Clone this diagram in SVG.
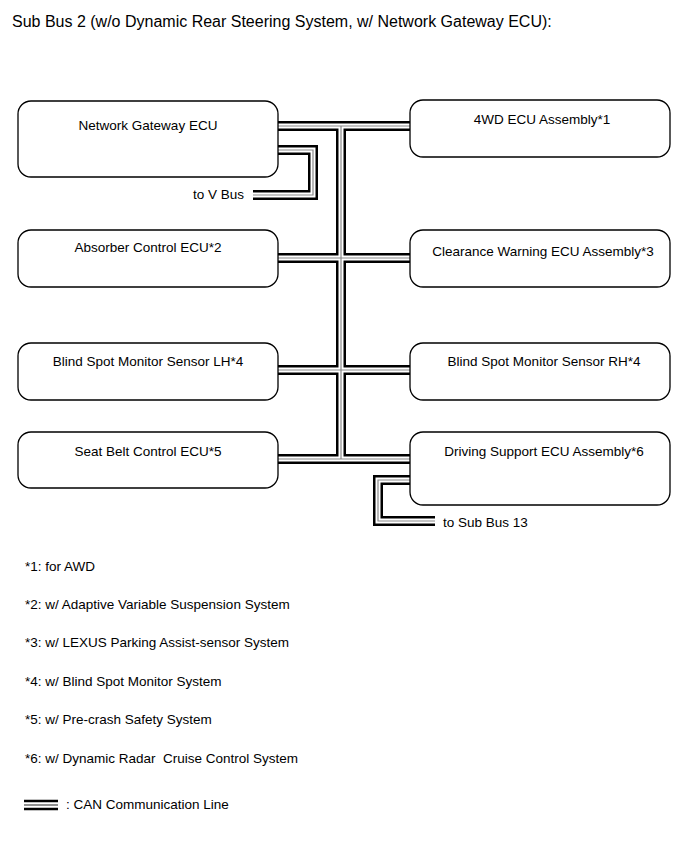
<svg xmlns="http://www.w3.org/2000/svg" width="690" height="854" viewBox="0 0 690 854">
<style>
text{font-family:"Liberation Sans",Arial,sans-serif;font-size:13.5px;fill:#000;white-space:pre}
.title{font-size:16px}
.box{fill:#fff;stroke:#000;stroke-width:1.3}
.c{fill:none;stroke-linejoin:miter;stroke-linecap:butt}
.cb{stroke:#000;stroke-width:10}
.cw{stroke:#fff;stroke-width:5}
.cg{stroke:#8a8a8a;stroke-width:1.2}
.m{text-anchor:middle}
</style>
<defs>
<g id="paths">
<path d="M278,126 H410"/>
<path d="M341,126 V459"/>
<path d="M278,258 H410"/>
<path d="M278,370 H410"/>
<path d="M278,459 H410"/>
<path d="M278,150 H313 V195 H253"/>
<path d="M410,480 H378 V521 H435"/>
</g>
</defs>
<rect width="690" height="854" fill="#fff"/>
<text class="title" x="12" y="27">Sub Bus 2 (w/o Dynamic Rear Steering System, w/ Network Gateway ECU):</text>
<g id="connectors">
<use href="#paths" class="c cb"/>
<use href="#paths" class="c cw"/>
<use href="#paths" class="c cg"/>
</g>
<g id="ngw"><rect class="box" x="18" y="101" width="260" height="76" rx="13"/><text class="m" x="148" y="130">Network Gateway ECU</text></g>
<g id="wd4"><rect class="box" x="410" y="100" width="260" height="57" rx="13"/><text class="m" x="542" y="124">4WD ECU Assembly*1</text></g>
<g id="absorber"><rect class="box" x="18" y="230" width="260" height="57" rx="13"/><text class="m" x="148" y="252">Absorber Control ECU*2</text></g>
<g id="clearance"><rect class="box" x="410" y="230" width="260" height="57" rx="13"/><text class="m" x="543" y="256">Clearance Warning ECU Assembly*3</text></g>
<g id="bsmlh"><rect class="box" x="18" y="343" width="260" height="57" rx="13"/><text class="m" x="148" y="366">Blind Spot Monitor Sensor LH*4</text></g>
<g id="bsmrh"><rect class="box" x="410" y="343" width="260" height="57" rx="13"/><text class="m" x="544" y="366">Blind Spot Monitor Sensor RH*4</text></g>
<g id="seatbelt"><rect class="box" x="18" y="432" width="260" height="56" rx="13"/><text class="m" x="148" y="456">Seat Belt Control ECU*5</text></g>
<g id="driving"><rect class="box" x="410" y="432" width="260" height="73" rx="13"/><text class="m" x="544" y="456">Driving Support ECU Assembly*6</text></g>
<text x="193" y="199">to V Bus</text>
<text x="443" y="527">to Sub Bus 13</text>
<g id="notes">
<text x="25" y="571">*1: for AWD</text>
<text x="25" y="609">*2: w/ Adaptive Variable Suspension System</text>
<text x="25" y="647">*3: w/ LEXUS Parking Assist-sensor System</text>
<text x="25" y="686">*4: w/ Blind Spot Monitor System</text>
<text x="25" y="724">*5: w/ Pre-crash Safety System</text>
<text x="25" y="763">*6: w/ Dynamic Radar  Cruise Control System</text>
</g>
<g id="legend">
<path d="M24,801 H58 M24,809 H58" stroke="#000" stroke-width="2.5" fill="none"/>
<path d="M24,805 H58" stroke="#222" stroke-width="1.1" fill="none"/>
<text x="66" y="809">: CAN Communication Line</text>
</g>
</svg>
